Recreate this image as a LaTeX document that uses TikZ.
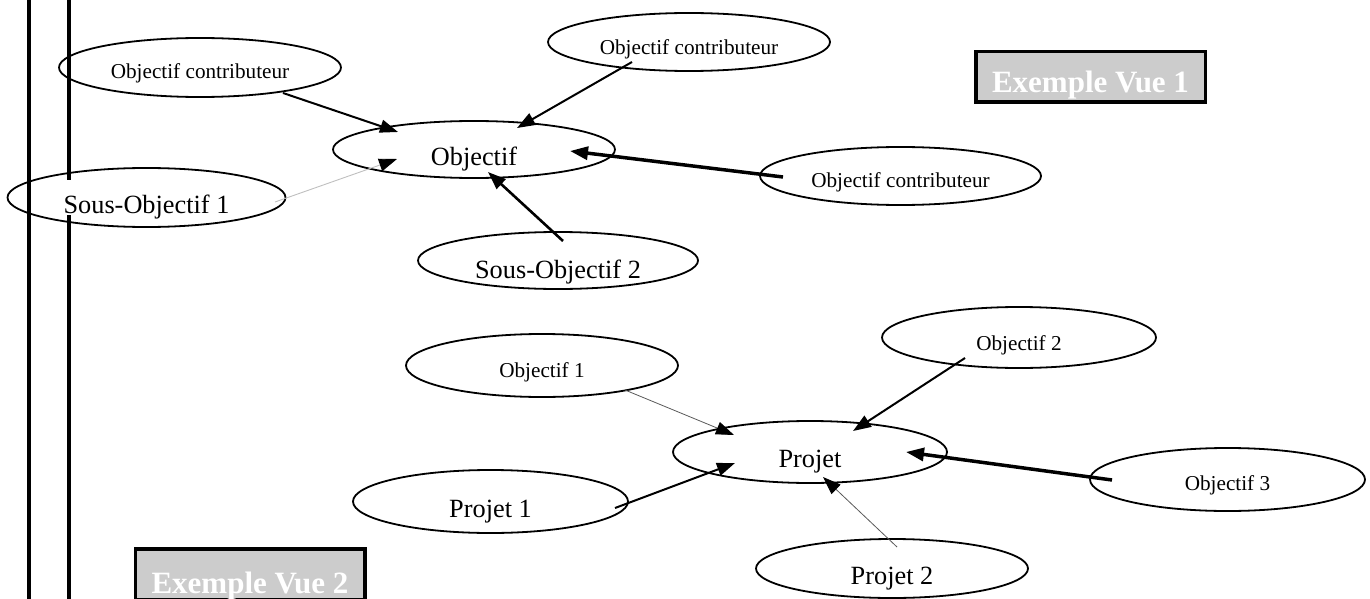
\documentclass[tikz,border=0pt]{standalone}
\usepackage{fontspec}
\setmainfont{Liberation Serif}
\usetikzlibrary{shapes.geometric,arrows.meta}
\tikzset{
  ell/.style 2 args={draw, ellipse, line width=1.8pt, inner sep=0pt,
    minimum width=#1pt, minimum height=#2pt},
  big/.style={font=\fontsize{26.3}{26.3}\selectfont, inner sep=0pt, anchor=base},
  small/.style={font=\fontsize{21.2}{21.2}\selectfont, inner sep=0pt, anchor=base},
  titlebox/.style={draw, line width=3.5pt, fill=gray!40, inner sep=0pt,
    minimum width=229.5pt, minimum height=50.5pt},
  titletxt/.style={font=\fontsize{31}{31}\selectfont\bfseries, text=white,
    inner sep=0pt, anchor=base},
  tip/.style={-{Triangle[length=18pt,width=13pt,color=black]}},
  arrA/.style={tip, line width=2pt},
  arrB/.style={tip, line width=2.6pt},
  arrC/.style={tip, line width=3.5pt},
  arrThin/.style={tip, line width=0.8pt, draw=black!65},
  arrGray/.style={tip, line width=0.9pt, draw=black!25},
  rail/.style={line width=3.5pt}
}
\begin{document}
\begin{tikzpicture}[x=1pt,y=-1pt]
\useasboundingbox (0,0) rectangle (1370,599);
% vertical rails
\draw[rail] (29,-5) -- (29,605);
\draw[rail] (69,-5) -- (69,180);
\draw[rail] (69,215) -- (69,605);

% ---- Vue 1 ----
\node[ell={282}{59}] (c1) at (200,67.5) {};
\node[small] (c1t) at ([yshift=-11.5pt]c1.center) {Objectif contributeur};
\node[ell={278}{59}] (so1) at (146.5,197.5) {};
\node[big] (so1t) at ([yshift=-15.5pt]so1.center) {Sous-Objectif 1};
\node[ell={282}{57}] (obj) at (474,149.5) {};
\node[big] (objt) at ([yshift=-15.5pt]obj.center) {Objectif};
\node[ell={282}{58}] (c2) at (689,42) {};
\node[small] (c2t) at ([yshift=-13pt]c2.center) {Objectif contributeur};
\node[ell={280}{57}] (so2) at (558,260.5) {};
\node[big] (so2t) at ([yshift=-17.5pt]so2.center) {Sous-Objectif 2};
\node[ell={281}{58}] (c3) at (900.5,176) {};
\node[small] (c3t) at ([yshift=-11pt]c3.center) {Objectif contributeur};

\node[titlebox] (v1) at (1090.5,77) {};
\node[titletxt] (v1t) at ([yshift=-16pt]v1.center) {Exemple Vue 1};

\draw[arrA] ([shift={(83,25.5)}]c1.center) -- ([shift={(-76,-17.5)}]obj.center);
\draw[arrGray] ([shift={(128.5,4.5)}]so1.center) -- ([shift={(-77,9.5)}]obj.center);
\draw[arrA] ([shift={(-57,20)}]c2.center) -- ([shift={(43,-21.5)}]obj.center);
\draw[arrC] ([shift={(-117.5,1)}]c3.center) -- ([shift={(96,1.5)}]obj.center);
\draw[arrB] ([shift={(5,-19.5)}]so2.center) -- ([shift={(14,22.5)}]obj.center);

% ---- Vue 2 ----
\node[ell={272}{63}] (ob1) at (542,365.5) {};
\node[small] (ob1t) at ([yshift=-11.5pt]ob1.center) {Objectif 1};
\node[ell={275}{63}] (p1) at (490.5,501.5) {};
\node[big] (p1t) at ([yshift=-15.5pt]p1.center) {Projet 1};
\node[ell={274}{62}] (pr) at (810,452) {};
\node[big] (prt) at ([yshift=-15pt]pr.center) {Projet};
\node[ell={274}{61}] (ob2) at (1019,337.5) {};
\node[small] (ob2t) at ([yshift=-12.5pt]ob2.center) {Objectif 2};
\node[ell={275}{63}] (ob3) at (1227.5,479.5) {};
\node[small] (ob3t) at ([yshift=-11pt]ob3.center) {Objectif 3};
\node[ell={272}{59}] (p2) at (892,568.5) {};
\node[big] (p2t) at ([yshift=-15.5pt]p2.center) {Projet 2};

\node[titlebox] (v2) at (250,574) {};
\node[titletxt] (v2t) at ([yshift=-19pt]v2.center) {Exemple Vue 2};

\draw[arrThin] ([shift={(83,24.5)}]ob1.center) -- ([shift={(-76,-17)}]pr.center);
\draw[arrA] ([shift={(124.5,6.5)}]p1.center) -- ([shift={(-75,11)}]pr.center);
\draw[arrA] ([shift={(-54,20.5)}]ob2.center) -- ([shift={(43,-21)}]pr.center);
\draw[arrC] ([shift={(-115.5,0.5)}]ob3.center) -- ([shift={(96,0)}]pr.center);
\draw[arrThin] ([shift={(5,-21.5)}]p2.center) -- ([shift={(13,25)}]pr.center);
\end{tikzpicture}
\end{document}
